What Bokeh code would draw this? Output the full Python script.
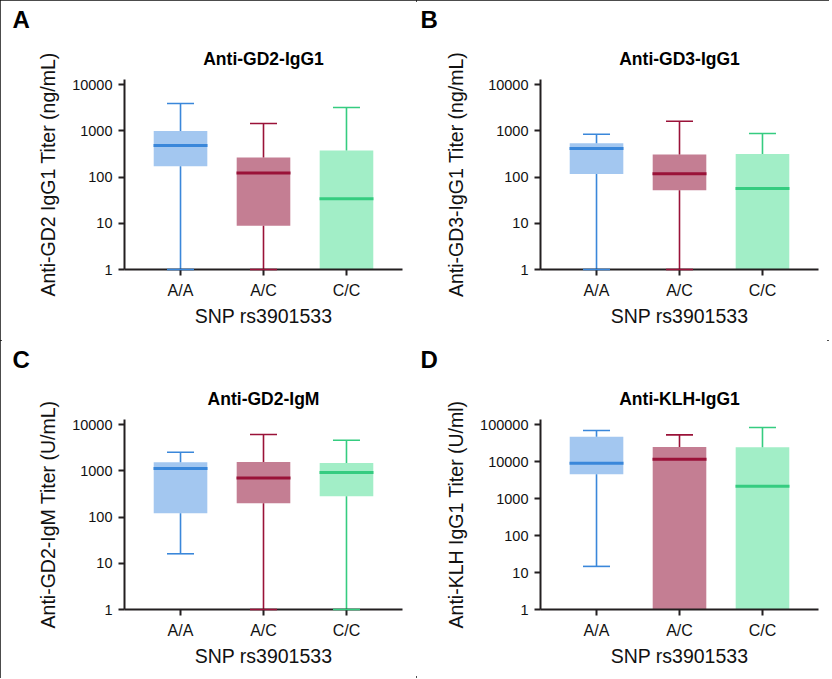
from bokeh.plotting import figure
from bokeh.models import Range1d, FixedTicker, PrintfTickFormatter, Title
from bokeh.layouts import gridplot
from bokeh.embed import file_html
from bokeh.resources import INLINE

genotypes = ["A/A", "A/C", "C/C"]
fill_colors = ["#A3C7F0", "#C47E93", "#A2EEC7"]
line_colors = ["#3A87DA", "#9A1238", "#35CC80"]

# Panel A: Anti-GD2-IgG1 (ng/mL)
gd2_igg1_low = [1, 1, 1]
gd2_igg1_q1 = [172, 8.9, 1]
gd2_igg1_med = [483, 123, 34]
gd2_igg1_q3 = [1000, 265, 376]
gd2_igg1_high = [3936, 1449, 3222]

# Panel B: Anti-GD3-IgG1 (ng/mL)
gd3_igg1_low = [1, 1, 1]
gd3_igg1_q1 = [117, 52, 1]
gd3_igg1_med = [415, 119, 57]
gd3_igg1_q3 = [542, 308, 318]
gd3_igg1_high = [850, 1628, 879]

# Panel C: Anti-GD2-IgM (U/mL)
gd2_igm_low = [16.1, 1, 1]
gd2_igm_q1 = [121, 200, 283]
gd2_igm_med = [1128, 708, 924]
gd2_igm_q3 = [1549, 1574, 1497]
gd2_igm_high = [2553, 6166, 4645]

# Panel D: Anti-KLH-IgG1 (U/ml)
klh_igg1_low = [14.7, 1, 1]
klh_igg1_q1 = [4590, 1, 1]
klh_igg1_med = [9120, 11700, 2170]
klh_igg1_q3 = [47300, 25300, 24800]
klh_igg1_high = [70200, 53500, 84700]

ticks_abc = [1, 10, 100, 1000, 10000]
ticks_d = [1, 10, 100, 1000, 10000, 100000]

x_title = "SNP rs3901533"

AX = "#231F20"
FONT = "Liberation Sans"


def make_panel(letter, title, ylabel, low, q1, med, q3, high, ticks, ytop,
               width, height, bl, br, bt, bb, letter_dx, ylab_standoff):
    p = figure(width=width, height=height, y_axis_type="log",
               x_range=Range1d(-0.675, len(genotypes) - 1 + 0.675),
               y_range=Range1d(1, ytop),
               output_backend="svg", toolbar_location=None,
               min_border_left=bl, min_border_right=br,
               min_border_top=bt, min_border_bottom=bb)
    p.outline_line_color = None
    p.xgrid.visible = False
    p.ygrid.visible = False
    p.background_fill_color = "white"
    p.border_fill_color = "white"

    xs = list(range(len(genotypes)))
    # boxes
    p.vbar(x=xs, width=0.646, bottom=q1, top=q3, fill_color=fill_colors,
           line_color=None)
    # whiskers
    p.segment(x0=xs, x1=xs, y0=q3, y1=high, line_color=line_colors, line_width=1.6)
    p.segment(x0=xs, x1=xs, y0=low, y1=q1, line_color=line_colors, line_width=1.6)
    # upper caps
    p.scatter(x=xs, y=high, marker="dash", size=27, line_color=line_colors,
              line_width=1.6)
    # lower caps (only where a lower whisker exists)
    lx = [x for x, lo, qq in zip(xs, low, q1) if lo < qq]
    ly = [lo for lo, qq in zip(low, q1) if lo < qq]
    lc = [c for c, lo, qq in zip(line_colors, low, q1) if lo < qq]
    if lx:
        r = p.scatter(x=lx, y=ly, marker="dash", size=27, line_color=lc,
                      line_width=1.6)
        r.level = "overlay"
    # medians
    p.scatter(x=xs, y=med, marker="dash", size=54, line_color=line_colors,
              line_width=3)

    # axes
    for ax in (p.xaxis[0], p.yaxis[0]):
        ax.axis_line_color = AX
        ax.axis_line_width = 2
        ax.major_tick_line_color = AX
        ax.major_tick_line_width = 2
        ax.major_tick_out = 6
        ax.major_tick_in = 0
        ax.minor_tick_out = 0
        ax.minor_tick_in = 0
        ax.major_label_text_color = "#111111"
        ax.axis_label_text_color = "#111111"
        ax.axis_label_text_font = FONT
        ax.axis_label_text_font_style = "normal"
        ax.axis_label_text_font_size = "19.5px"
        ax.major_label_text_font = FONT

    p.xaxis.ticker = FixedTicker(ticks=xs)
    p.xaxis.major_label_overrides = {x: g for x, g in zip(xs, genotypes)}
    p.xaxis.major_label_text_font_size = "16px"
    p.xaxis.major_label_standoff = 6
    p.xaxis.axis_label = x_title
    p.xaxis.axis_label_standoff = 3

    p.yaxis.ticker = FixedTicker(ticks=ticks, minor_ticks=[])
    p.yaxis.formatter = PrintfTickFormatter(format="%d")
    p.yaxis.major_label_text_font_size = "14.5px"
    p.yaxis.major_label_standoff = 6
    p.yaxis.axis_label = ylabel
    p.yaxis.axis_label_standoff = ylab_standoff

    # panel letter (outermost, via the plot title)
    p.title.text = letter
    p.title.align = "left"
    p.title.offset = letter_dx
    p.title.text_font = FONT
    p.title.text_font_style = "bold"
    p.title.text_font_size = "24px"
    p.title.text_color = "#000000"
    p.title.standoff = 5

    # chart title (closest to the frame)
    p.add_layout(Title(text=title, align="center",
                       text_font=FONT, text_font_style="bold",
                       text_font_size="17.5px", text_color="#000000",
                       standoff=22), "above")
    return p


pA = make_panel("A", "Anti-GD2-IgG1", "Anti-GD2 IgG1 Titer (ng/mL)",
                gd2_igg1_low, gd2_igg1_q1, gd2_igg1_med, gd2_igg1_q3, gd2_igg1_high,
                ticks_abc, 10 ** 4.115, 416, 340, 124, 14, 79, 71, -112, 10)
pB = make_panel("B", "Anti-GD3-IgG1", "Anti-GD3-IgG1 Titer (ng/mL)",
                gd3_igg1_low, gd3_igg1_q1, gd3_igg1_med, gd3_igg1_q3, gd3_igg1_high,
                ticks_abc, 10 ** 4.115, 413, 340, 124, 11, 79, 71, -120, 18)
pC = make_panel("C", "Anti-GD2-IgM", "Anti-GD2-IgM Titer (U/mL)",
                gd2_igm_low, gd2_igm_q1, gd2_igm_med, gd2_igm_q3, gd2_igm_high,
                ticks_abc, 10 ** 4.115, 416, 338, 124, 14, 79, 69, -112, 10)
pD = make_panel("D", "Anti-KLH-IgG1", "Anti-KLH IgG1 Titer (U/ml)",
                klh_igg1_low, klh_igg1_q1, klh_igg1_med, klh_igg1_q3, klh_igg1_high,
                ticks_d, 10 ** 5.145, 413, 338, 124, 11, 79, 69, -120, 10)

grid = gridplot([[pA, pB], [pC, pD]], toolbar_location=None)
grid.styles = {"outline": "2px solid #111111", "outline-offset": "-2px"}

open("out.html", "w").write(file_html(grid, INLINE))
